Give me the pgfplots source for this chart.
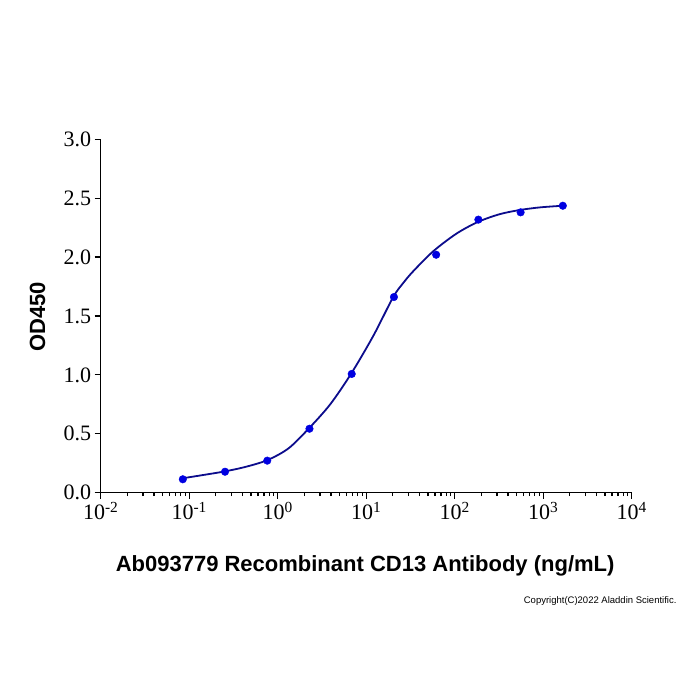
\documentclass[border=0pt]{standalone}
\usepackage{fontspec}
\setmainfont{Liberation Serif}
\newfontfamily\arialfont{Liberation Sans}
\usepackage{pgfplots}
\pgfplotsset{compat=1.18}
\definecolor{fitline}{RGB}{12,12,140}
\definecolor{dotblue}{RGB}{0,0,225}
\begin{document}
\begin{tikzpicture}
\path[use as bounding box] (0,0) rectangle (700pt,700pt);
\begin{axis}[
  at={(100.7pt,207.3pt)}, anchor=south west,
  scale only axis, width=531pt, height=353.4pt,
  xmode=log, xmin=0.01, xmax=10000, ymin=0, ymax=3,
  axis x line=bottom, axis y line=left,
  axis line style={-, line width=1.5pt},
  xtick={0.01,0.1,1,10,100,1000,10000},
  xticklabels={10\textsuperscript{-2},10\textsuperscript{-1},10\textsuperscript{0},10\textsuperscript{1},10\textsuperscript{2},10\textsuperscript{3},10\textsuperscript{4}},
  minor xtick={0.02,0.03,0.04,0.05,0.06,0.07,0.08,0.09,
               0.2,0.3,0.4,0.5,0.6,0.7,0.8,0.9,
               2,3,4,5,6,7,8,9,
               20,30,40,50,60,70,80,90,
               200,300,400,500,600,700,800,900,
               2000,3000,4000,5000,6000,7000,8000,9000},
  ytick={0,0.5,1,1.5,2,2.5,3},
  yticklabel style={/pgf/number format/fixed, /pgf/number format/fixed zerofill,
                    /pgf/number format/precision=1, /pgf/number format/assume math mode=true},
  tick label style={font=\fontsize{22}{22}\selectfont},
  tick align=outside,
  major tick length=6pt, minor tick length=3.5pt,
  every tick/.style={black, line width=1.2pt},
  xlabel={\arialfont\bfseries Ab093779 Recombinant CD13 Antibody (ng/mL)},
  xlabel style={at={(axis description cs:0.498,-0.224)}, anchor=base,
                font=\fontsize{22}{22}\selectfont},
  ylabel={\arialfont\bfseries OD450},
  ylabel style={at={(axis description cs:-0.119,0.497)}, anchor=center,
                font=\fontsize{22}{22}\selectfont},
  clip=false,
]
\addplot[fitline, line width=1.8pt, smooth] coordinates {
  (0.0836,0.122) (0.138,0.148) (0.249,0.180) (0.427,0.218) (0.762,0.276)
  (1.318,0.375) (2.22,0.541) (3.90,0.748) (6.73,1.008) (12.0,1.330)
  (20.2,1.661) (26.2,1.780) (34.0,1.880) (57.3,2.050) (105,2.200)
  (185,2.300) (325,2.365) (547,2.400) (920,2.422) (1660,2.436)
};
\addplot[only marks, mark=*, mark size=3.8pt, color=dotblue] coordinates {
  (0.0847,0.114) (0.254,0.178) (0.762,0.272) (2.286,0.543) (6.86,1.008)
  (20.58,1.661) (61.73,2.020) (185.2,2.318) (555.6,2.380) (1666.7,2.436)
};
\end{axis}
\node[anchor=base east, font=\arialfont\fontsize{9.5}{9.5}\selectfont]
  at (680pt,96pt) {Copyright(C)2022 Aladdin Scientific.};
\end{tikzpicture}
\end{document}
